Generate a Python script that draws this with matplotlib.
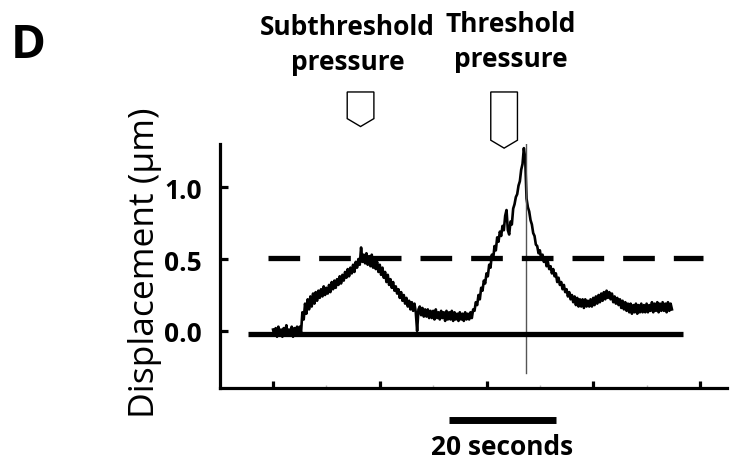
import numpy as np
import matplotlib
matplotlib.use("Agg")
import matplotlib.pyplot as plt
from matplotlib.patches import Polygon

plt.rcParams["font.family"] = ["Open Sans", "DejaVu Sans"]

# ── data ──────────────────────────────────────────────────────
# displacement trace (µm), sampled every 0.25 s starting at t = 0,
# one row per 5 s
trace_dt = 0.25
trace = [
    0.01, -0.03, 0.02, -0.04, 0.03, -0.02, 0.01, -0.04, 0.02, -0.01, 0.04, -0.03, 0.01, -0.02, 0.03, -0.04, 0.02, -0.01, 0.03, -0.03,
    0.03, -0.01, 0.13, 0.08, 0.19, 0.12, 0.22, 0.15, 0.24, 0.17, 0.26, 0.19, 0.27, 0.21, 0.28, 0.23, 0.29, 0.24, 0.31, 0.25,
    0.30, 0.26, 0.32, 0.27, 0.34, 0.29, 0.35, 0.30, 0.36, 0.32, 0.38, 0.33, 0.39, 0.35, 0.41, 0.37, 0.43, 0.38, 0.44, 0.40,
    0.46, 0.41, 0.48, 0.44, 0.50, 0.46, 0.58, 0.48, 0.53, 0.47, 0.54, 0.46, 0.52, 0.45, 0.53, 0.44, 0.50, 0.43, 0.48, 0.41,
    0.46, 0.39, 0.44, 0.37, 0.41, 0.34, 0.39, 0.32, 0.36, 0.30, 0.34, 0.28, 0.31, 0.26, 0.29, 0.23, 0.27, 0.21, 0.25, 0.19,
    0.23, 0.17, 0.21, 0.15, 0.20, 0.14, 0.19, 0.13, 0.00, 0.15, 0.17, 0.11, 0.16, 0.10, 0.15, 0.10, 0.15, 0.09, 0.14, 0.09,
    0.14, 0.08, 0.15, 0.09, 0.13, 0.08, 0.14, 0.09, 0.13, 0.07, 0.14, 0.08, 0.13, 0.08, 0.14, 0.07, 0.13, 0.08, 0.12, 0.07,
    0.13, 0.08, 0.12, 0.07, 0.13, 0.08, 0.12, 0.08, 0.13, 0.09, 0.15, 0.14, 0.20, 0.18, 0.25, 0.22, 0.30, 0.28, 0.35, 0.33,
    0.40, 0.38, 0.46, 0.44, 0.53, 0.50, 0.59, 0.56, 0.65, 0.62, 0.69, 0.66, 0.73, 0.70, 0.80, 0.84, 0.70, 0.67, 0.76, 0.74,
    0.85, 0.88, 0.93, 0.95, 1.01, 1.04, 1.12, 1.16, 1.27, 1.20, 0.92, 0.86, 0.83, 0.77, 0.74, 0.68, 0.66, 0.60, 0.59, 0.54,
    0.56, 0.50, 0.53, 0.48, 0.51, 0.45, 0.48, 0.43, 0.45, 0.40, 0.43, 0.38, 0.40, 0.34, 0.37, 0.32, 0.34, 0.29, 0.32, 0.27,
    0.29, 0.24, 0.27, 0.22, 0.25, 0.20, 0.24, 0.18, 0.23, 0.17, 0.22, 0.17, 0.22, 0.16, 0.22, 0.17, 0.21, 0.17, 0.22, 0.17,
    0.23, 0.18, 0.24, 0.19, 0.25, 0.20, 0.26, 0.21, 0.27, 0.22, 0.28, 0.23, 0.27, 0.22, 0.26, 0.20, 0.24, 0.19, 0.23, 0.18,
    0.22, 0.16, 0.21, 0.15, 0.20, 0.14, 0.19, 0.13, 0.19, 0.12, 0.18, 0.13, 0.19, 0.12, 0.18, 0.13, 0.19, 0.13, 0.18, 0.13,
    0.19, 0.13, 0.18, 0.14, 0.20, 0.13, 0.19, 0.14, 0.20, 0.13, 0.19, 0.14, 0.20, 0.14, 0.19, 0.13, 0.20, 0.14, 0.19, 0.15,
]
t = np.arange(len(trace)) * trace_dt

spike_t = 47.4                 # artefact line at the threshold peak
spike_range = (-0.29, 1.30)

baseline_y = -0.02
baseline_span = (-4.7, 76.8)
threshold_y = 0.51
threshold_span = (-0.9, 80.6)

stim_times = [16.4, 43.3]
stim_labels = ["Subthreshold\npressure", "Threshold\npressure"]
stim_label_x = [14.0, 44.6]
stim_label_y = [1.995, 2.015]
stim_tip = [1.42, 1.27]        # y where each pointer ends

scalebar = (33.0, 53.0)        # 20 s
scalebar_label = "20 seconds"

yticks = [0.0, 0.5, 1.0]
xticks_major = [0, 20, 40, 60, 80]
xticks_minor = [10, 30, 50, 70]

# ── figure ────────────────────────────────────────────────────
fig = plt.figure(figsize=(7.31, 4.64), dpi=100)
ax = fig.add_axes([0.301, 0.1616, 0.6935, 0.526])

ax.plot(t, trace, color="black", lw=1.9)
ax.plot([spike_t, spike_t], spike_range, color="#555555", lw=1.0)
ax.plot(baseline_span, [baseline_y] * 2, color="black", lw=3.8, solid_capstyle="butt")
ax.plot(threshold_span, [threshold_y] * 2, color="black", lw=3.8,
        dashes=(6, 3.6), dash_capstyle="butt")

ax.set_xlim(-9.93, 85.06)
ax.set_ylim(-0.396, 1.299)

for s in ["top", "right"]:
    ax.spines[s].set_visible(False)
for s in ["left", "bottom"]:
    ax.spines[s].set_linewidth(2.3)

ax.set_yticks(yticks)
ax.set_yticklabels([f"{v:.1f}" for v in yticks], fontsize=19, fontweight="bold")
ax.tick_params(axis="y", direction="in", length=6, width=2.3, pad=13)
ax.set_xticks(xticks_major)
ax.set_xticks(xticks_minor, minor=True)
ax.set_xticklabels([])
ax.tick_params(axis="x", which="major", direction="in", length=5, width=2.3)
ax.tick_params(axis="x", which="minor", direction="in", length=2, width=1, color="#bbbbbb")

fig.text(145 / 731, 1 - 263 / 464, "Displacement (µm)", rotation=90,
         ha="center", va="center", fontsize=25.5)
fig.text(28 / 731, 1 - 46 / 464, "D", ha="center", va="center",
         fontsize=34, fontweight="bold")

# stimulus pointers (pentagon arrows above the trace)
half_w, top_y = 2.5, 1.66
for x0, tip, lab, lx, ly in zip(stim_times, stim_tip, stim_labels,
                                stim_label_x, stim_label_y):
    shoulder = tip + 0.055
    pts = [(x0 - half_w, top_y), (x0 + half_w, top_y), (x0 + half_w, shoulder),
           (x0, tip), (x0 - half_w, shoulder)]
    ax.add_patch(Polygon(pts, closed=True, fill=False, edgecolor="black",
                         lw=1.0, clip_on=False))
    ax.text(lx, ly, lab, ha="center", va="center", fontsize=19,
            fontweight="bold", linespacing=1.4, clip_on=False)

# time scale bar below the axis
ax.plot(scalebar, [-0.618] * 2, color="black", lw=5, solid_capstyle="butt",
        clip_on=False)
ax.text(sum(scalebar) / 2, -0.80, scalebar_label, ha="center", va="center",
        fontsize=19, fontweight="bold", clip_on=False)

fig.savefig("out.png", dpi=100)
